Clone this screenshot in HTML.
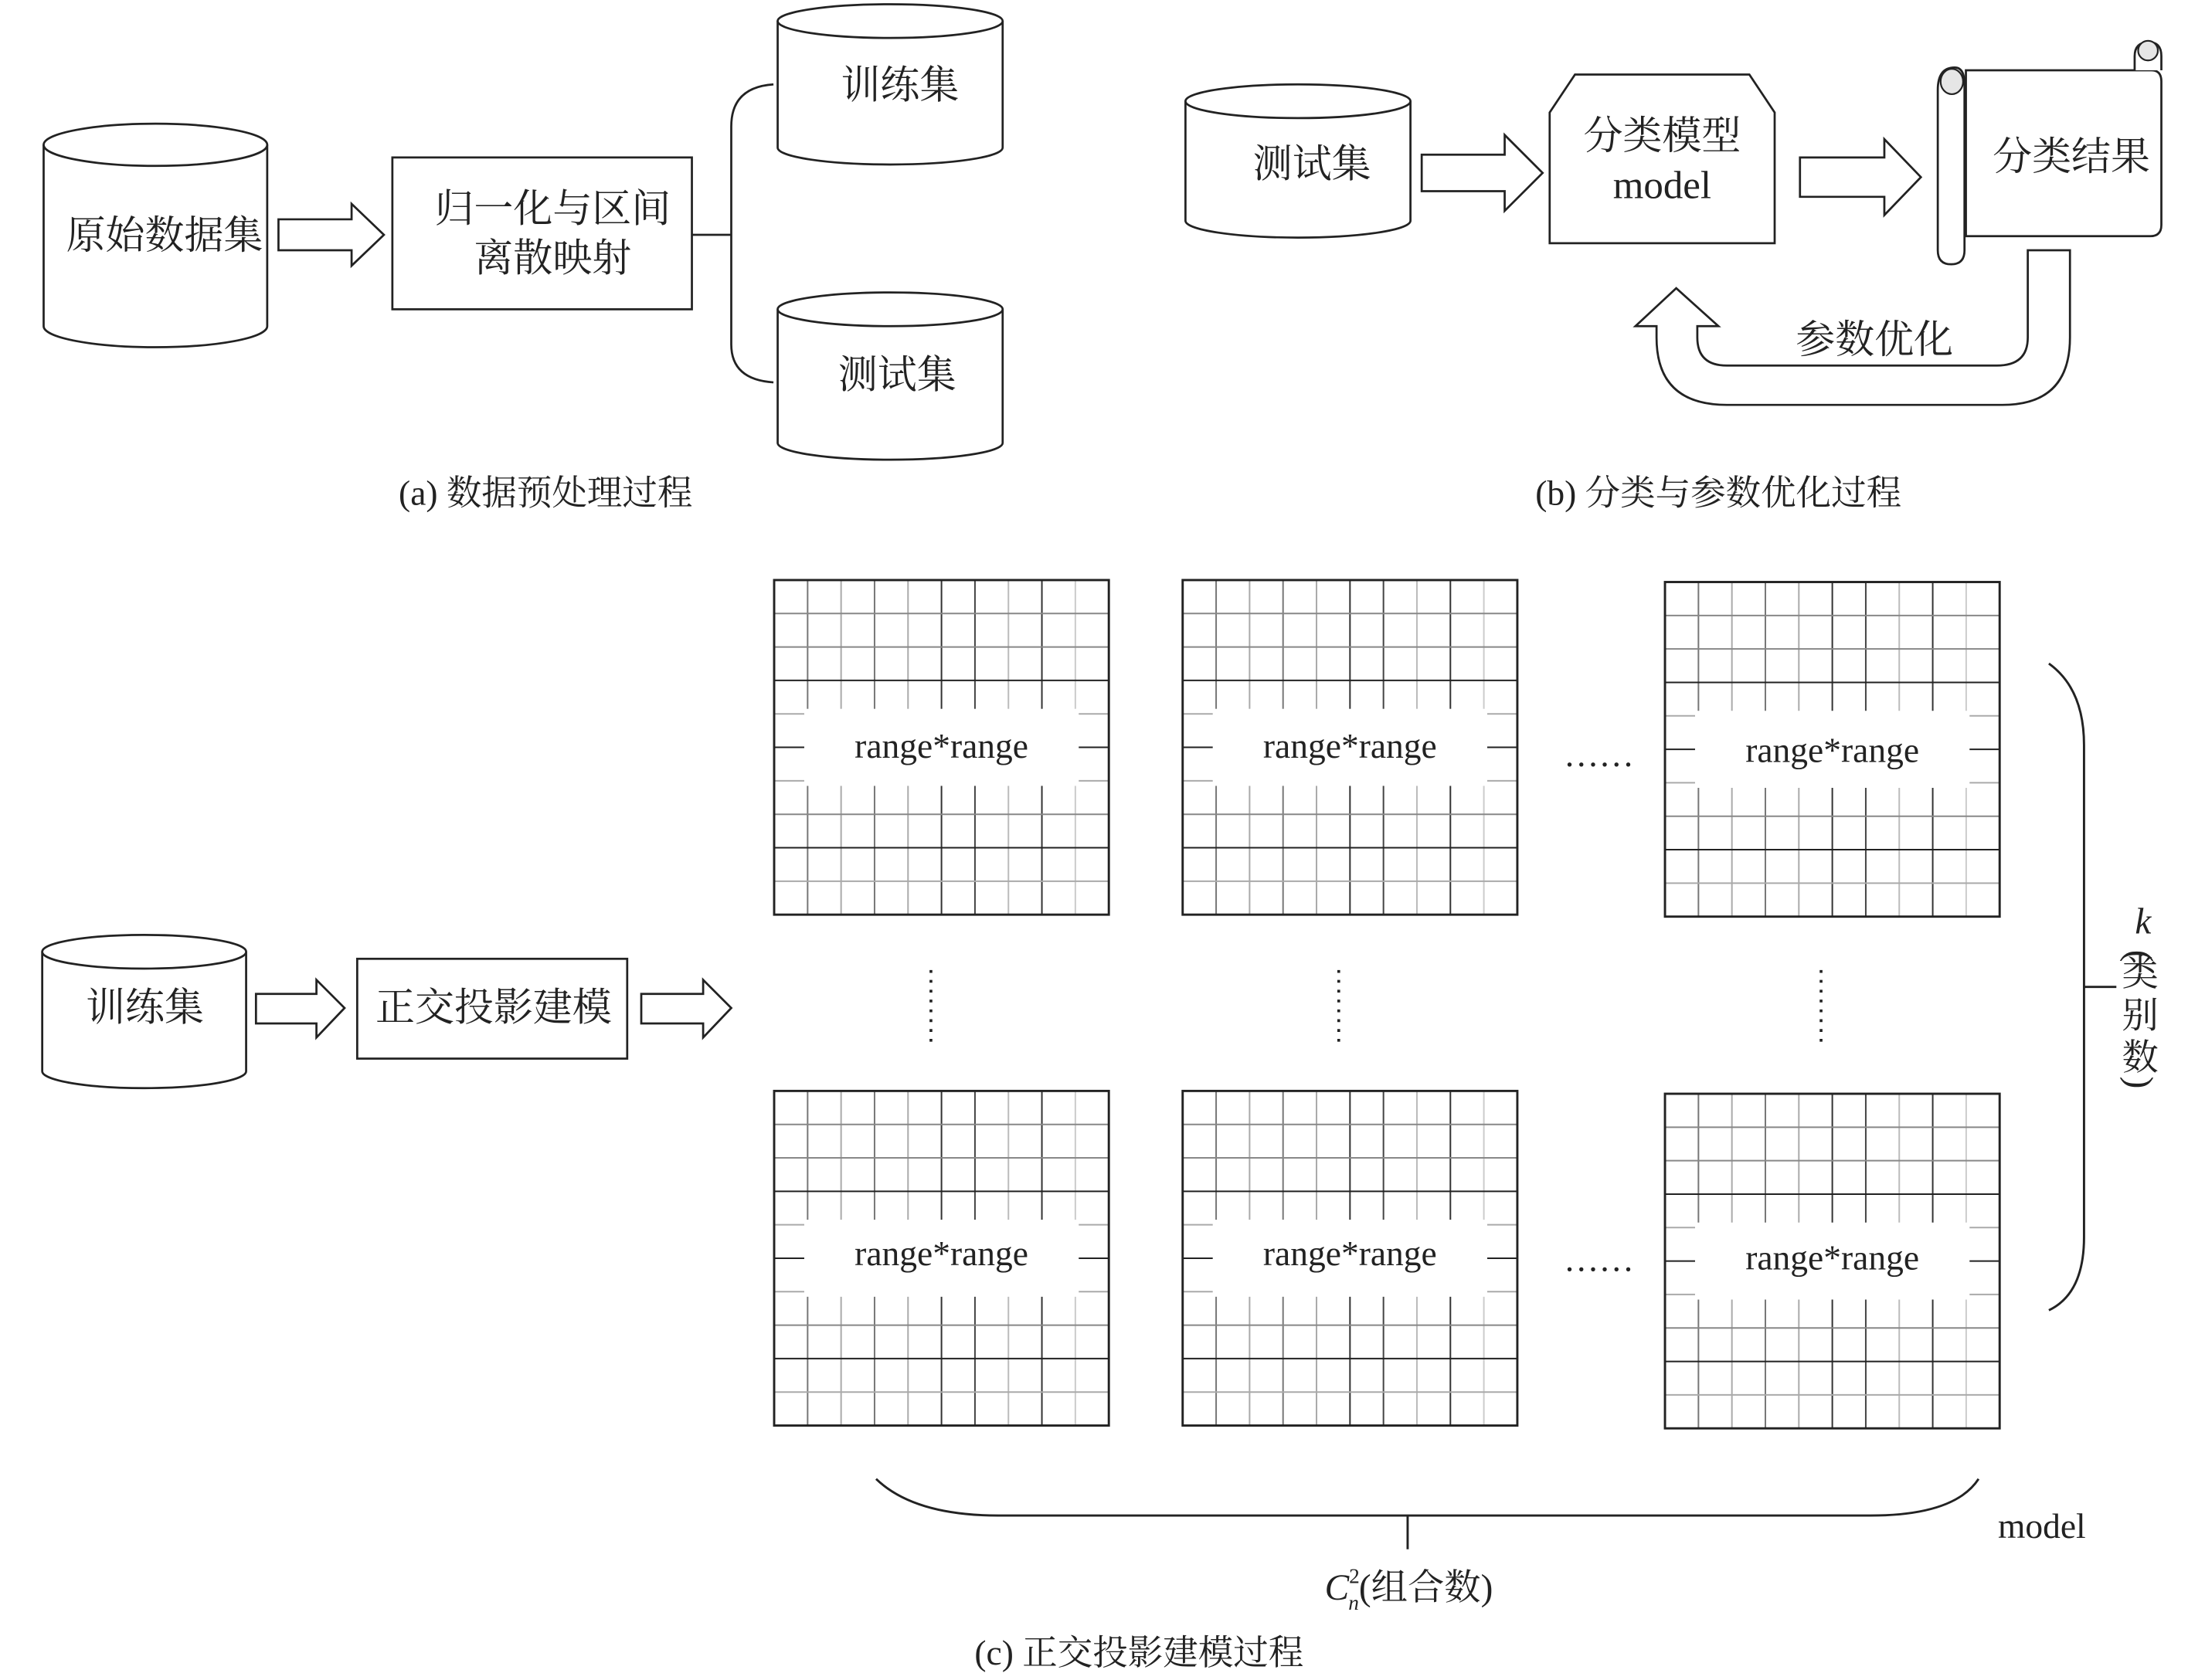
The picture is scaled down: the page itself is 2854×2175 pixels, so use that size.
<!DOCTYPE html>
<html><head><meta charset="utf-8"><style>
html,body{margin:0;padding:0;background:#fff;}
svg{display:block;}
.cn{font-family:"Liberation Serif","Noto Serif CJK SC",serif;fill:#222;}
</style></head><body>
<svg width="2854" height="2175" viewBox="0 0 1568 1195" xmlns="http://www.w3.org/2000/svg">
<defs>
<g id="grid">
 <rect x="0" y="0" width="238" height="238" fill="#fff"/>
 <g stroke-width="1.1">
  <line x1="23.8" y1="0" x2="23.8" y2="238" stroke="#777"/>
  <line x1="47.6" y1="0" x2="47.6" y2="238" stroke="#aaa"/>
  <line x1="71.4" y1="0" x2="71.4" y2="238" stroke="#777"/>
  <line x1="95.2" y1="0" x2="95.2" y2="238" stroke="#aaa"/>
  <line x1="119" y1="0" x2="119" y2="238" stroke="#333"/>
  <line x1="142.8" y1="0" x2="142.8" y2="238" stroke="#444"/>
  <line x1="166.6" y1="0" x2="166.6" y2="238" stroke="#bbb"/>
  <line x1="190.4" y1="0" x2="190.4" y2="238" stroke="#333"/>
  <line x1="214.2" y1="0" x2="214.2" y2="238" stroke="#ccc"/>
  <line y1="23.8" x1="0" y2="23.8" x2="238" stroke="#888"/>
  <line y1="47.6" x1="0" y2="47.6" x2="238" stroke="#888"/>
  <line y1="71.4" x1="0" y2="71.4" x2="238" stroke="#222"/>
  <line y1="95.2" x1="0" y2="95.2" x2="238" stroke="#aaa"/>
  <line y1="119" x1="0" y2="119" x2="238" stroke="#222"/>
  <line y1="142.8" x1="0" y2="142.8" x2="238" stroke="#aaa"/>
  <line y1="166.6" x1="0" y2="166.6" x2="238" stroke="#888"/>
  <line y1="190.4" x1="0" y2="190.4" x2="238" stroke="#222"/>
  <line y1="214.2" x1="0" y2="214.2" x2="238" stroke="#aaa"/>
 </g>
 <rect x="21.4" y="91.6" width="195.2" height="54.8" fill="#fff"/>
 <rect x="0" y="0" width="238" height="238" fill="none" stroke="#222" stroke-width="1.6"/>
</g>
</defs>

<g fill="#fff" stroke="#222" stroke-width="1.5">
 <!-- (a) -->
 <path d="M31,103 V232 A79.5,15 0 0 0 190,232 V103"/>
 <ellipse cx="110.5" cy="103" rx="79.5" ry="15"/>
 <path d="M198,156 H250 V145 L273,167 L250,189 V178 H198 Z"/>
 <rect x="279" y="112" width="213" height="108"/>
 <path d="M492,167 H520" fill="none"/>
 <path d="M550,60 Q520,62 520,90 V245 Q520,270 550,272" fill="none"/>
 <path d="M553,15 V105 A80,12 0 0 0 713,105 V15"/>
 <ellipse cx="633" cy="15" rx="80" ry="12"/>
 <path d="M553,220 V315 A80,12 0 0 0 713,315 V220"/>
 <ellipse cx="633" cy="220" rx="80" ry="12"/>
 <!-- (b) -->
 <path d="M843,72 V157 A80,12 0 0 0 1003,157 V72"/>
 <ellipse cx="923" cy="72" rx="80" ry="12"/>
 <path d="M1011,110 H1070 V96 L1097,123 L1070,150 V136 H1011 Z"/>
 <path d="M1102,80 L1120,53 H1244 L1262,80 V173 H1102 Z"/>
 <path d="M1280,112 H1340 V99 L1366,126 L1340,153 V140 H1280 Z"/>
 <!-- scroll -->
 <path d="M1398,50 H1530 Q1537,50 1537,58 V160 Q1537,168 1529,168 H1398 Z"/>
 <path d="M1518,50 V40 Q1518,30 1528,30 Q1537,30 1537,40 V50"/>
 <ellipse cx="1527.5" cy="36" rx="7" ry="7" fill="#e6e6e6" stroke-width="1.2"/>
 <path d="M1378,64 Q1378,48 1390,48 Q1397,48 1397,60 V178 Q1397,188 1387.5,188 Q1378,188 1378,178 Z"/>
 <ellipse cx="1388" cy="58" rx="8" ry="9" fill="#e6e6e6" stroke-width="1.2"/>
 <path d="M1442,178 H1472 V240 Q1472,288 1424,288 H1228 Q1178,288 1178,240 V232 H1163 L1192,205 L1222,232 H1207 V240 Q1207,260 1228,260 H1420 Q1442,260 1442,240 Z"/>
 <!-- (c) -->
 <path d="M30,677 V762 A72.5,12 0 0 0 175,762 V677"/>
 <ellipse cx="102.5" cy="677" rx="72.5" ry="12"/>
 <path d="M182,707 H225 V697 L245,717 L225,738 V728 H182 Z"/>
 <rect x="254" y="682" width="192" height="71"/>
 <path d="M456,707 H500 V697 L520,717 L500,738 V728 H456 Z"/>
</g>

<!-- grids -->
<use href="#grid" x="550.5" y="412.6"/>
<use href="#grid" x="841" y="412.6"/>
<use href="#grid" x="1184" y="414"/>
<use href="#grid" x="550.5" y="776"/>
<use href="#grid" x="841" y="776"/>
<use href="#grid" x="1184" y="778"/>

<g fill="none" stroke="#222" stroke-width="1.6">
 <path d="M1457,472 Q1482,490 1482,530 V880 Q1482,920 1457,932"/>
 <path d="M1482,702 H1505"/>
 <path d="M623,1052 Q650,1078 710,1078 H1330 Q1390,1078 1407,1052"/>
 <path d="M1001,1078 V1102"/>
</g>
<g fill="none" stroke="#222" stroke-width="2" stroke-dasharray="2,5">
 <path d="M662,690 V745"/>
 <path d="M952,690 V745"/>
 <path d="M1295,690 V745"/>
</g>

<g class="cn" font-size="28" text-anchor="middle">
 <text x="117" y="177">原始数据集</text>
 <text x="393" y="158">归一化与区间</text>
 <text x="393" y="193">离散映射</text>
 <text x="640" y="70">训练集</text>
 <text x="638" y="276">测试集</text>
 <text x="933" y="126">测试集</text>
 <text x="1182" y="106">分类模型</text>
 <text x="1182" y="141">model</text>
 <text x="1473" y="121">分类结果</text>
 <text x="1333" y="251">参数优化</text>
 <text x="103" y="726">训练集</text>
 <text x="351" y="726">正交投影建模</text>
</g>
<g class="cn" font-size="25" text-anchor="middle">
 <text x="388" y="359">(a) 数据预处理过程</text>
 <text x="1222" y="359">(b) 分类与参数优化过程</text>
 <text x="810" y="1184">(c) 正交投影建模过程</text>
 <text x="1452" y="1094">model</text>
</g>
<g class="cn" font-size="25" text-anchor="middle">
 <text x="669.5" y="539">range*range</text>
 <text x="960" y="539">range*range</text>
 <text x="1303" y="542">range*range</text>
 <text x="669.5" y="900">range*range</text>
 <text x="960" y="900">range*range</text>
 <text x="1303" y="903">range*range</text>
 <text x="1137" y="545">……</text>
 <text x="1137" y="904">……</text>
</g>
<g class="cn" font-size="26" text-anchor="middle">
 <text x="1524" y="664" font-style="italic">k</text>
 <text x="1522" y="689" transform="rotate(90 1522 680)">(</text>
 <text x="1522" y="701">类</text>
 <text x="1522" y="731">别</text>
 <text x="1522" y="761">数</text>
 <text x="1522" y="779" transform="rotate(90 1522 770)">)</text>
</g>
<text class="cn" x="942" y="1138" font-size="26"><tspan font-style="italic">C</tspan><tspan font-size="15" dy="-12">2</tspan><tspan font-size="15" font-style="italic" dx="-8" dy="19">n</tspan><tspan dy="-7">(组合数)</tspan></text>
</svg>
</body></html>
